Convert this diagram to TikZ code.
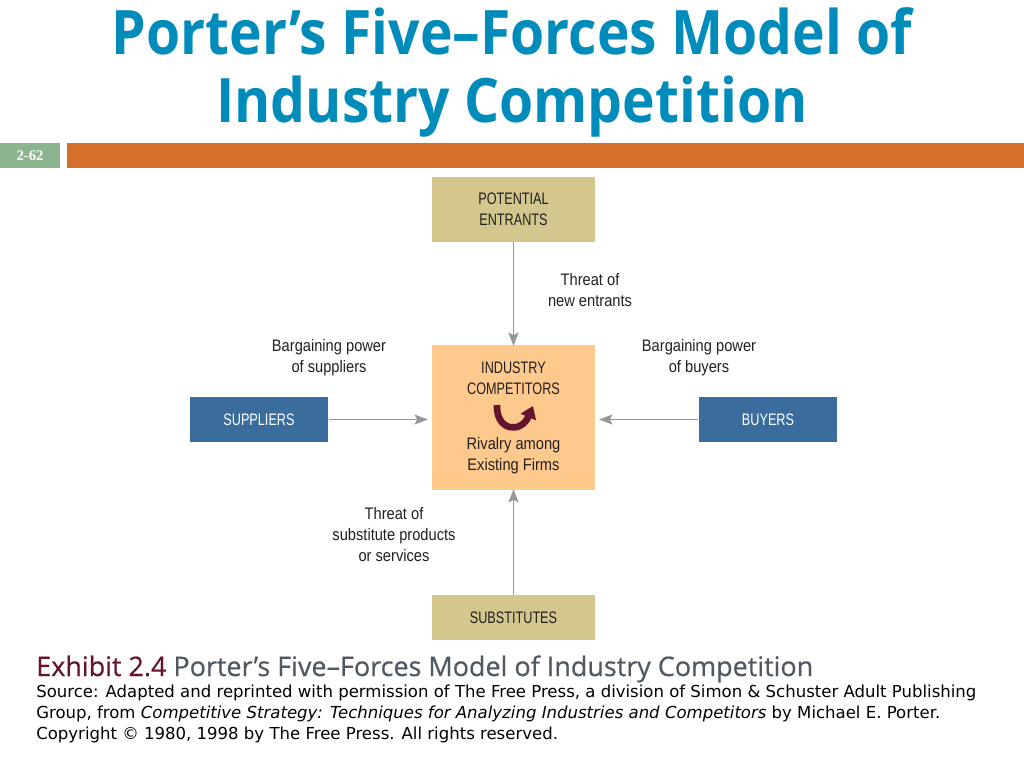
\documentclass[tikz,border=0pt]{standalone}
\usepackage{fontspec}
\usepackage{tikz}
\usetikzlibrary{arrows.meta,positioning}
\setmainfont{DejaVu Sans}
\newfontfamily\titlefont[FakeStretch=0.9]{Open Sans}
\newfontfamily\capfont[FakeBold=0.5]{Open Sans}
\newfontfamily\condfont[FakeStretch=0.76]{Liberation Sans}
\newfontfamily\lowfont[FakeStretch=0.88]{Liberation Sans}
\newfontfamily\numfont{Liberation Serif}
\definecolor{titleblue}{RGB}{0,140,186}
\definecolor{barorange}{RGB}{213,112,44}
\definecolor{bargreen}{RGB}{140,180,142}
\definecolor{tanbox}{RGB}{212,199,142}
\definecolor{peachbox}{RGB}{253,201,140}
\definecolor{bluebox}{RGB}{58,108,158}
\definecolor{maroon}{RGB}{100,20,45}
\definecolor{capgrey}{RGB}{80,88,98}
\definecolor{arrowgrey}{RGB}{150,150,150}
\definecolor{ink}{RGB}{35,31,32}
\tikzset{
  forcebox/.style={minimum width=122pt,minimum height=34pt,inner sep=0pt,align=center,text=ink,
    font=\condfont\fontsize{12.5}{15.75}\selectfont},
  lbl/.style={align=center,inner sep=0pt,text=ink,font=\lowfont\fontsize{12.5}{15.75}\selectfont},
  force/.style={draw=arrowgrey,line width=1.1pt,-{Stealth[length=10pt,width=7.5pt,inset=2pt]}}
}
\begin{document}
\begin{tikzpicture}[x=0.75pt,y=0.75pt,yscale=-1,xscale=1]
\useasboundingbox (0,0) rectangle (1024,768);

% Title
\node (title) [anchor=base,inner sep=0pt,text=titleblue,
  font=\titlefont\bfseries\fontsize{46}{51}\selectfont] at (512,54) {Porter’s Five–Forces Model of};
\node (title2) [anchor=base,inner sep=0pt,text=titleblue,
  font=\titlefont\bfseries\fontsize{46}{51}\selectfont] at (512,122) {Industry Competition};

% Header bar
\fill [bargreen] (0,143) rectangle (60,168);
\fill [barorange] (67,143) rectangle (1024,168);
\node (slide) [text=white,font=\numfont\bfseries\fontsize{11}{12}\selectfont] at (30,155.5) {2-62};

% Boxes
\node (entrants) [forcebox,fill=tanbox,minimum height=49pt] at (513.5,209.5) {POTENTIAL\\ENTRANTS};
\node (industry) [forcebox,fill=peachbox,minimum height=109pt] at (513.5,417.5) {};
\node (suppliers) [forcebox,fill=bluebox,text=white,minimum width=104pt] at (259,419.5) {SUPPLIERS};
\node (buyers) [forcebox,fill=bluebox,text=white,minimum width=104pt] at (768,419.5) {BUYERS};
\node (substitutes) [forcebox,fill=tanbox] at (513.5,617.5) {SUBSTITUTES};

% Industry box content
\node (rivals) [forcebox,minimum height=0pt] at (513.5,378.5) {INDUSTRY\\COMPETITORS};
\node (rivalry) [lbl] at (513.5,456) {Rivalry among\\Existing Firms};
\draw [maroon,line width=5pt,-{Triangle[length=9pt,width=12pt]}]
  (497,405) .. controls (496,431) and (521,434) .. (533,406);

% Forces
\draw [force] (entrants) -- ([yshift=1pt]industry.north);
\draw [force] (substitutes) -- ([yshift=-1pt]industry.south);
\draw [force] (suppliers.east) -- ([xshift=-3pt]suppliers.east -| industry.west);
\draw [force] (buyers.west) -- ([xshift=3pt]buyers.west -| industry.east);

% Labels
\node (newentr) [lbl] at (590,290) {Threat of\\new entrants};
\node (supppow) [lbl] at (329,358) {Bargaining power\\of suppliers};
\node (buypow) [lbl] at (699,358) {Bargaining power\\of buyers};
\node (subst) [lbl] at (394,535) {Threat of\\substitute products\\or services};

% Caption
\node (exhibit) [anchor=base west,inner sep=0pt,font=\capfont\fontsize{20.2}{24}\selectfont] at (36,676)
  {\textcolor{maroon}{Exhibit 2.4} \textcolor{capgrey}{Porter’s Five–Forces Model of Industry Competition}};
\node (source) [anchor=north west,inner sep=0pt,align=left,font=\fontsize{12.4}{15.75}\selectfont] at (36,685)
  {Source: Adapted and reprinted with permission of The Free Press, a division of Simon \& Schuster Adult Publishing\\
   Group, from \textit{Competitive Strategy: Techniques for Analyzing Industries and Competitors} by Michael E. Porter.\\
   Copyright © 1980, 1998 by The Free Press. All rights reserved.};
\end{tikzpicture}
\end{document}
